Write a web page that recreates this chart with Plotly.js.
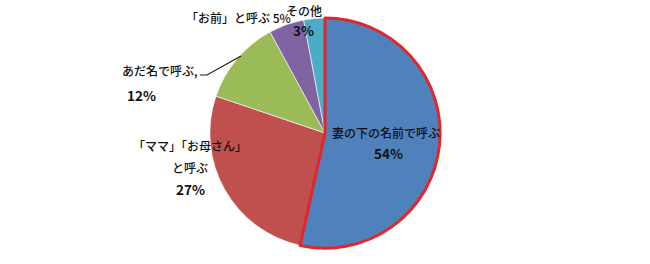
<!DOCTYPE html>
<html><head><meta charset="utf-8">
<script src="https://cdn.plot.ly/plotly-3.0.1.min.js"></script>
<style>html,body{margin:0;padding:0;background:#fff}</style>
</head><body><div id="chart" style="width:650px;height:264px"></div>
<script>
const categories = ["妻の下の名前で呼ぶ", "「ママ」「お母さん」と呼ぶ", "あだ名で呼ぶ", "「お前」と呼ぶ", "その他"];
const values = [54, 27, 12, 5, 3];
const colors = ["#4f81bd", "#c0504d", "#9bbb59", "#8064a2", "#4bacc6"];
// label text lines (in display form) and placement
const labelLines = [
  ["妻の下の名前で呼ぶ"],
  ["「ママ」「お母さん」", "と呼ぶ"],
  ["あだ名で呼ぶ,"],
  ["「お前」と呼ぶ"],
  ["その他"]
];
const W = 650, H = 264;
const dom = {x: [0, 1], y: [0.06, 0.932]};
const font = {family: "Noto Sans CJK JP", size: 12, color: "#111", weight: 500};
const bfont = {family: "Noto Sans CJK JP", size: 13.5, color: "#111", weight: "bold"};

const pie = {
  type: "pie", values: values, labels: categories, sort: false,
  direction: "clockwise", rotation: 0,
  marker: {colors: colors, line: {color: "rgba(255,255,255,0.6)", width: 1}},
  textinfo: "none", hoverinfo: "none", domain: dom, showlegend: false
};
const rest = values.slice(1).reduce((a, b) => a + b, 0);
const outline = {
  type: "pie", values: [values[0], rest], labels: ["a", "b"], sort: false,
  direction: "clockwise", rotation: 0,
  marker: {colors: ["rgba(0,0,0,0)", "rgba(0,0,0,0)"],
           line: {color: ["#e3262a", "rgba(0,0,0,0)"], width: [3, 0]}},
  textinfo: "none", hoverinfo: "none", domain: dom, showlegend: false
};

function ann(px, py, text, f) {
  return {xref: "paper", yref: "paper", x: px / W, y: 1 - py / H, text: text,
          showarrow: false, font: f, xanchor: "center", yanchor: "middle"};
}
const pct = values.map(v => v + "%");
const annotations = [
  ann(386, 132, labelLines[0][0], font), ann(388, 153, pct[0], bfont),
  ann(190, 145, labelLines[1][0], font), ann(190, 167, labelLines[1][1], font), ann(190, 189, pct[1], bfont),
  ann(160, 70, labelLines[2][0], font), ann(141, 95, pct[2], bfont),
  ann(238, 17, labelLines[3][0] + " " + pct[3], font),
  ann(304, 11, labelLines[4][0], font), ann(303, 30, pct[4], bfont)
];
const shapes = [{type: "path", xref: "paper", yref: "paper",
  path: "M " + (200/W) + "," + (1-75/H) + " L " + (207/W) + "," + (1-75/H) + " L " + (241/W) + "," + (1-56/H),
  line: {color: "#1a1a1a", width: 1.2}}];

Plotly.newPlot("chart", [pie, outline], {
  width: W, height: H, margin: {l: 0, r: 0, t: 0, b: 0},
  paper_bgcolor: "#fff", plot_bgcolor: "#fff",
  annotations: annotations, shapes: shapes, showlegend: false
}, {displayModeBar: false, staticPlot: true});
</script></body></html>
